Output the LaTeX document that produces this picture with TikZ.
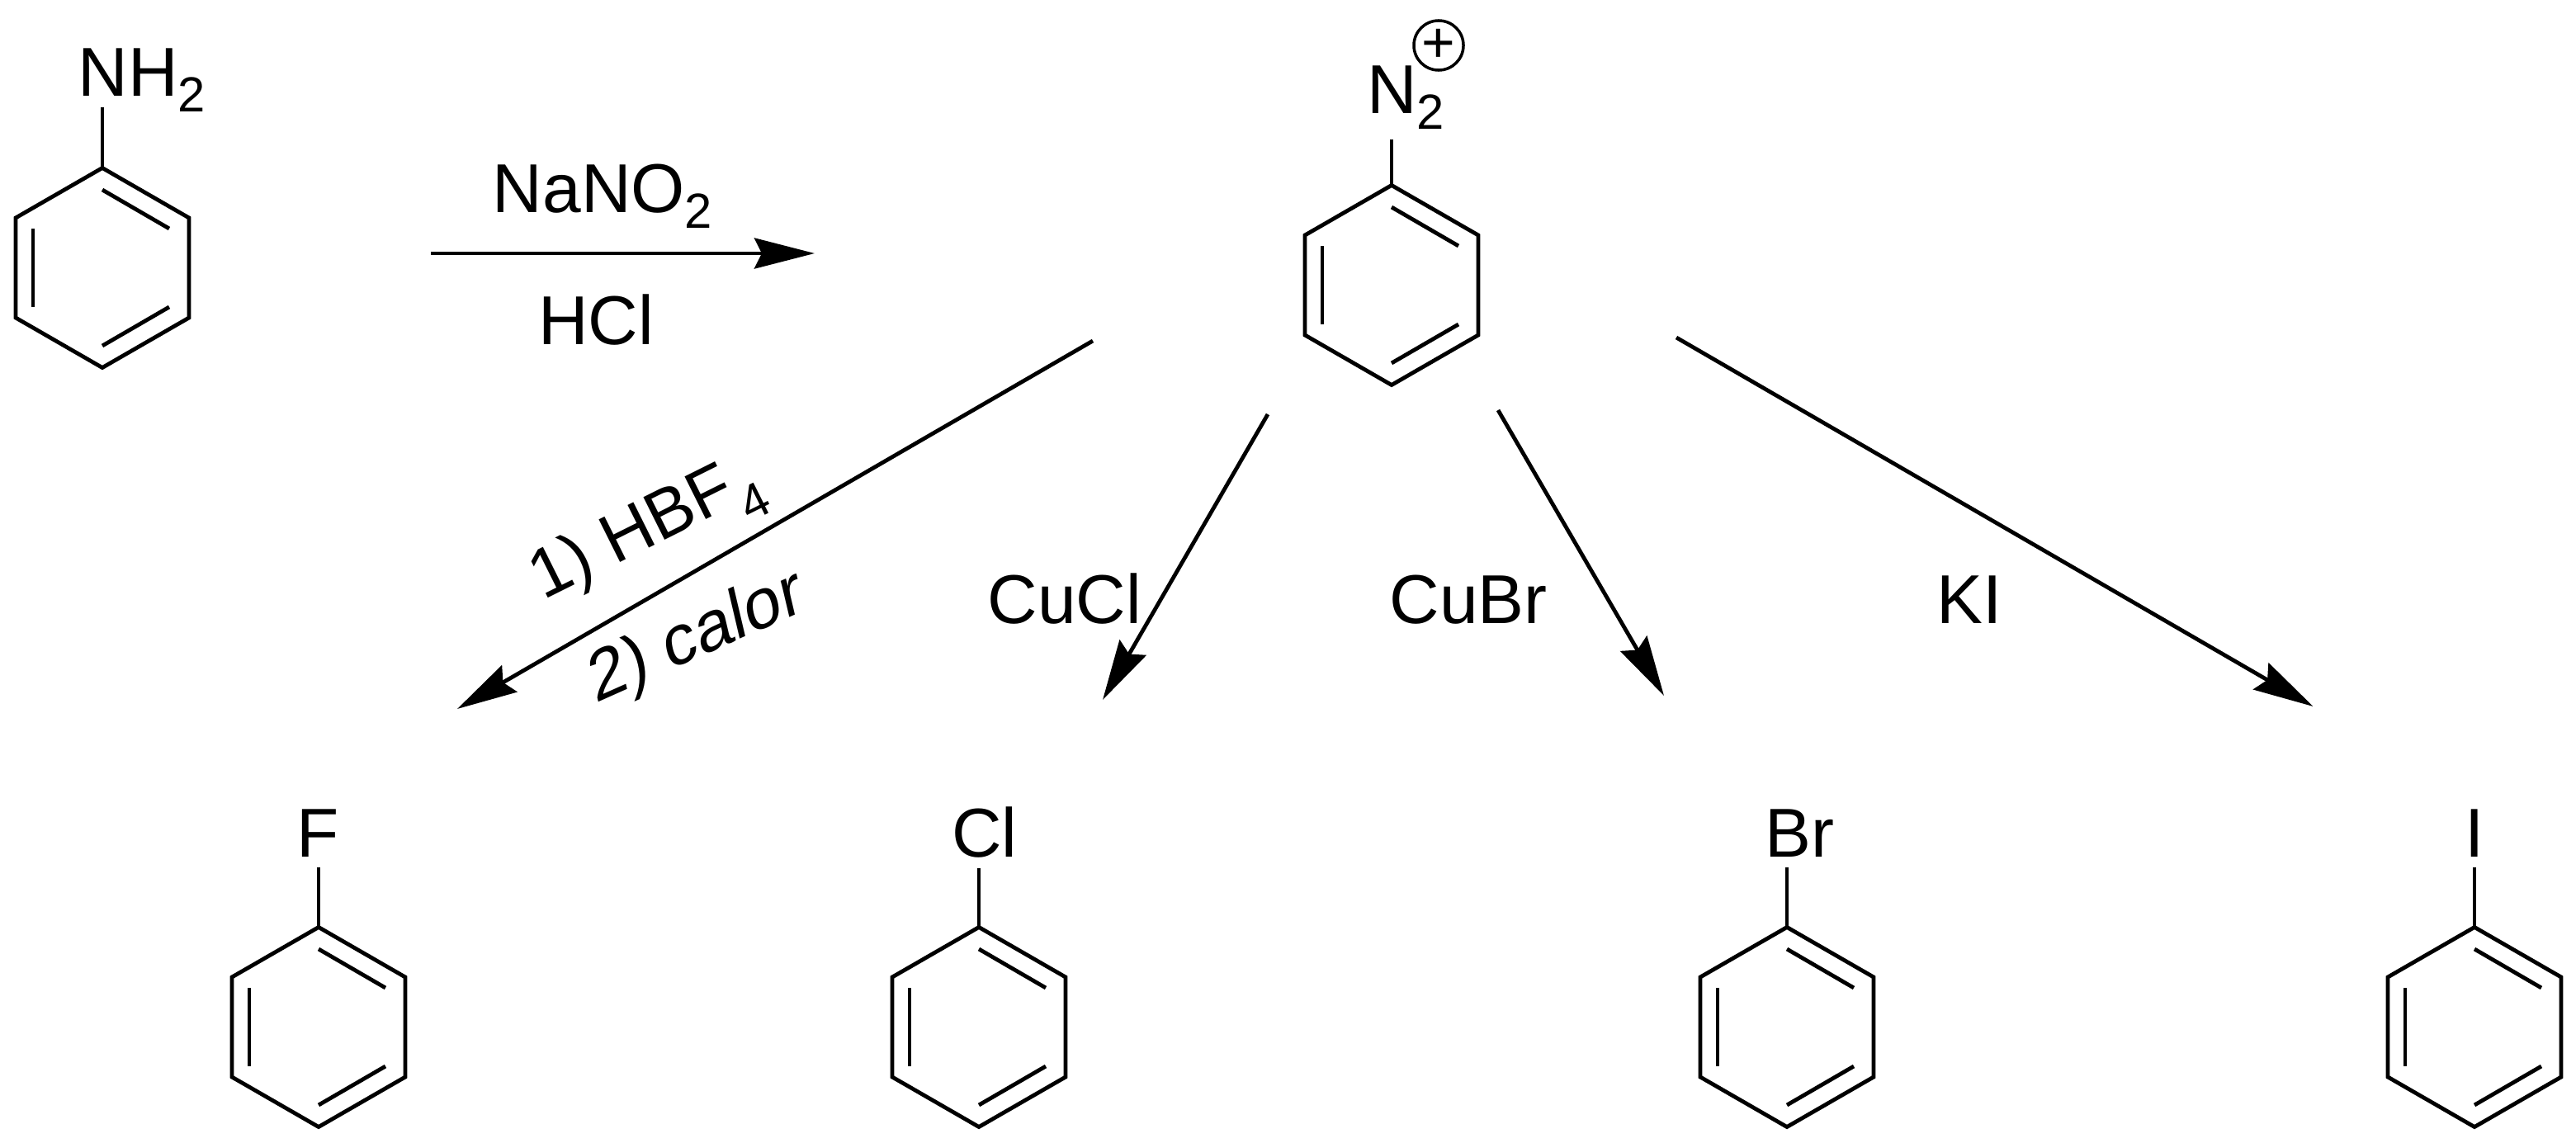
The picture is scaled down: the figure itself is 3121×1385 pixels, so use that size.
\documentclass[tikz,border=0pt]{standalone}
\usepackage{fontspec}
\setmainfont{Liberation Sans}
\usetikzlibrary{arrows.meta}

\newcommand{\subnum}[2][-1.8mm]{\raisebox{#1}{\fontsize{17}{20}\selectfont #2}}

\tikzset{
  bond/.style={line width=0.48mm, line join=miter},
  rxn/.style={line width=0.48mm, -{Stealth[length=7.3mm,width=3.7mm,inset=0.9mm]}},
  atom/.style={anchor=base, inner sep=0pt, outer sep=1.3mm, font=\fontsize{23.84}{28}\selectfont},
  reagent/.style={anchor=base, inner sep=0pt, font=\fontsize{23.84}{28}\selectfont},
  slanted/.style={anchor=base west, inner sep=0pt, font=\fontsize{23.84}{28}\selectfont},
  charge/.style={draw, circle, line width=0.35mm, inner sep=0pt, minimum size=6mm, font=\fontsize{19.8}{24}\selectfont}
}

% ring name, centre x, centre y, atom on top
\newcommand{\benzene}[4]{
  \begin{scope}[shift={(#2,#3)}]
    \coordinate (#1) at (0,-121);
    \draw[bond] (#1) -- (105,-60.5) -- (105,60.5) -- (0,121) -- (-105,60.5) -- (-105,-60.5) -- cycle;
    \draw[bond] (0,-94.5) -- (81,-47.5);
    \draw[bond] (-84,-47.5) -- (-84,47.5);
    \draw[bond] (0,94.5) -- (81,47.5);
  \end{scope}
  \draw[bond] (#1) -- (#1 |- #4.south);
}

\begin{document}
\begin{tikzpicture}[x=0.01cm,y=-0.01cm]
  \useasboundingbox (0,0) rectangle (3121,1385);

  %% Aniline
  \node [atom, text depth=0pt] (nhtwo) at (172,117) {NH\subnum{2}};
  \benzene{aniline}{124}{324.5}{nhtwo}

  %% Diazonium
  \node [atom] (ntwo) at (1703,138) {N\subnum{2}};
  \node [charge] (plus) at (1743,55) {+};
  \benzene{diazo}{1686}{345.5}{ntwo}

  %% Products
  \node [atom] (fluor) at (385,1038) {F};
  \benzene{fring}{386}{1244.5}{fluor}
  \node [atom] (chlor) at (1193,1038) {Cl};
  \benzene{clring}{1186}{1244.5}{chlor}
  \node [atom] (brom) at (2180,1038) {Br};
  \benzene{brring}{2165}{1244.5}{brom}
  \node [atom] (iod) at (2998,1038) {I};
  \benzene{iring}{2998}{1244.5}{iod}

  %% Diazotization
  \coordinate (hstart) at (522,307);
  \coordinate (hend) at (987,307);
  \draw[rxn] (hstart) -- (hend);
  \node [reagent] (nitrite) at (730,258) {NaNO\subnum{2}};
  \node [reagent] (acid) at (722,417) {HCl};

  %% Fluoride
  \coordinate (fstart) at (1324,413);
  \coordinate (fend) at (554,859);
  \draw[rxn] (fstart) -- (fend);
  \node [slanted, rotate=26.5] (hbf) at (657.6,728) {1) HBF\subnum[-2.75mm]{4}};
  \node [slanted, rotate=24, xslant=0.19] (heat) at (721,853) {2) calor};

  %% Chloride
  \coordinate (clstart) at (1536,502);
  \coordinate (clend) at (1336,848);
  \draw[rxn] (clstart) -- (clend);
  \node [reagent] (cucl) at (1290,755) {CuCl};

  %% Bromide
  \coordinate (brstart) at (1815,497);
  \coordinate (brend) at (2016,843);
  \draw[rxn] (brstart) -- (brend);
  \node [reagent] (cubr) at (1779,755) {CuBr};

  %% Iodide
  \coordinate (istart) at (2031,409);
  \coordinate (iend) at (2802.5,856);
  \draw[rxn] (istart) -- (iend);
  \node [reagent] (ki) at (2386,755) {KI};

\end{tikzpicture}
\end{document}
